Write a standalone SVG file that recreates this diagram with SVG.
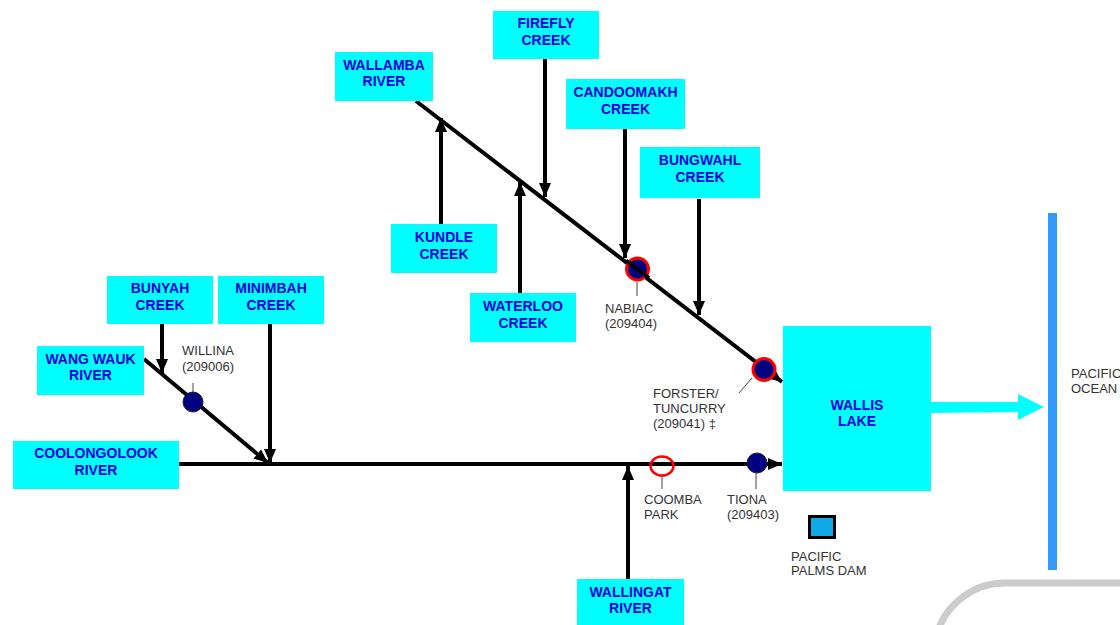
<svg xmlns="http://www.w3.org/2000/svg" width="1120" height="625" viewBox="0 0 1120 625">
<style>
.box{fill:#00ffff}
.bt{font-family:"Liberation Sans",Arial,sans-serif;font-weight:bold;font-size:14px;fill:#0000dd;text-anchor:middle}
.lt{font-family:"Liberation Sans",Arial,sans-serif;font-size:13px;fill:#333333}
.flow{stroke:#000;stroke-width:4;fill:none}
.tick{stroke:#444;stroke-width:1;fill:none}
.stn{fill:#000080}
.stnr{fill:#000080;stroke:#ff0000;stroke-width:3}
</style>
<defs>
<marker id="ah" markerUnits="userSpaceOnUse" markerWidth="14" markerHeight="12" refX="14" refY="6" orient="auto">
<path d="M0,0 L14,6 L0,12 z" fill="#000"/>
</marker>
</defs>
<rect width="1120" height="625" fill="#fff"/>

<g id="connectors">
<line class="flow" x1="179" y1="464" x2="782" y2="464" marker-end="url(#ah)"/>
<line class="flow" x1="144" y1="359" x2="268" y2="463" marker-end="url(#ah)"/>
<line class="flow" x1="270" y1="324" x2="270" y2="463" marker-end="url(#ah)"/>
<line class="flow" x1="162" y1="324" x2="162" y2="373" marker-end="url(#ah)"/>
<line class="flow" x1="416" y1="101" x2="782" y2="382" marker-end="url(#ah)"/>
<line class="flow" x1="441" y1="224" x2="441" y2="118" marker-end="url(#ah)"/>
<line class="flow" x1="545" y1="59" x2="545" y2="197" marker-end="url(#ah)"/>
<line class="flow" x1="520" y1="293" x2="520" y2="182" marker-end="url(#ah)"/>
<line class="flow" x1="625" y1="129" x2="625" y2="258" marker-end="url(#ah)"/>
<line class="flow" x1="699" y1="199" x2="699" y2="315" marker-end="url(#ah)"/>
<line class="flow" x1="628" y1="579" x2="628" y2="466" marker-end="url(#ah)"/>
<polygon points="931,402 1018,402 1018,394 1044,407 1018,420 1018,412 931,413" fill="#00ffff"/>
</g>

<g id="wallamba"><rect class="box" x="335" y="52" width="98" height="49"/><text class="bt" x="384" y="69.5">WALLAMBA</text><text class="bt" x="384" y="86">RIVER</text></g>
<g id="firefly"><rect class="box" x="493" y="11" width="106" height="48"/><text class="bt" x="546" y="28">FIREFLY</text><text class="bt" x="546" y="44.5">CREEK</text></g>
<g id="candoomakh"><rect class="box" x="566" y="79" width="119" height="50"/><text class="bt" x="625.5" y="97">CANDOOMAKH</text><text class="bt" x="625.5" y="113.5">CREEK</text></g>
<g id="bungwahl"><rect class="box" x="640" y="147" width="120" height="51"/><text class="bt" x="700" y="165">BUNGWAHL</text><text class="bt" x="700" y="181.5">CREEK</text></g>
<g id="kundle"><rect class="box" x="391" y="224" width="106" height="49"/><text class="bt" x="444" y="242">KUNDLE</text><text class="bt" x="444" y="258.5">CREEK</text></g>
<g id="waterloo"><rect class="box" x="470" y="293" width="106" height="49"/><text class="bt" x="523" y="311">WATERLOO</text><text class="bt" x="523" y="327.5">CREEK</text></g>
<g id="bunyah"><rect class="box" x="107" y="276" width="106" height="48"/><text class="bt" x="160" y="293">BUNYAH</text><text class="bt" x="160" y="309.5">CREEK</text></g>
<g id="minimbah"><rect class="box" x="218" y="276" width="106" height="48"/><text class="bt" x="271" y="293">MINIMBAH</text><text class="bt" x="271" y="309.5">CREEK</text></g>
<g id="wangwauk"><rect class="box" x="37" y="346" width="107" height="49"/><text class="bt" x="90.5" y="363.5">WANG WAUK</text><text class="bt" x="90.5" y="380">RIVER</text></g>
<g id="coolongolook"><rect class="box" x="13" y="441" width="166" height="48"/><text class="bt" x="96" y="458">COOLONGOLOOK</text><text class="bt" x="96" y="474.5">RIVER</text></g>
<g id="wallingat"><rect class="box" x="577" y="579" width="107" height="48"/><text class="bt" x="630.5" y="597">WALLINGAT</text><text class="bt" x="630.5" y="613">RIVER</text></g>
<g id="wallislake"><rect class="box" x="783" y="326" width="148" height="165"/><text class="bt" x="857" y="410">WALLIS</text><text class="bt" x="857" y="426">LAKE</text></g>

<g id="willina"><line class="tick" x1="193" y1="383" x2="193" y2="392"/><circle class="stn" cx="193" cy="402" r="10" stroke="#222" stroke-width="1"/><text class="lt" x="182" y="355">WILLINA</text><text class="lt" x="182" y="371">(209006)</text></g>
<g id="nabiac"><line class="tick" x1="637" y1="282" x2="637" y2="296"/><circle class="stnr" cx="637.5" cy="269" r="11"/><line x1="626" y1="260.5" x2="649" y2="278" stroke="#000" stroke-width="4"/><text class="lt" x="605" y="313">NABIAC</text><text class="lt" x="605" y="328">(209404)</text></g>
<g id="forster"><line class="tick" x1="752" y1="378" x2="739" y2="393"/><circle class="stnr" cx="764" cy="369.5" r="11"/><text class="lt" x="653" y="398">FORSTER/</text><text class="lt" x="653" y="413">TUNCURRY</text><text class="lt" x="653" y="428">(209041) ‡</text></g>
<g id="coomba"><line class="tick" x1="662" y1="476" x2="662" y2="489"/><ellipse cx="662" cy="466" rx="11.5" ry="9.5" fill="none" stroke="#ff0000" stroke-width="2.5"/><text class="lt" x="644" y="504">COOMBA</text><text class="lt" x="644" y="519">PARK</text></g>
<g id="tiona"><line class="tick" x1="756" y1="473" x2="756" y2="489"/><circle class="stn" cx="757" cy="463" r="10" stroke="#222" stroke-width="1"/><text class="lt" x="727" y="504">TIONA</text><text class="lt" x="727" y="519">(209403)</text></g>
<g id="palmsdam"><rect x="809.5" y="516.5" width="25" height="21" fill="#0fa8e8" stroke="#000" stroke-width="3"/><text class="lt" x="791" y="561">PACIFIC</text><text class="lt" x="791" y="575">PALMS DAM</text></g>
<g id="ocean"><rect x="1048" y="213" width="9" height="357" fill="#3399ff"/><text class="lt" x="1071" y="378">PACIFIC</text><text class="lt" x="1071" y="393">OCEAN</text></g>
<path d="M937.5 632 A71 71 0 0 1 1005 583 L1125 583" fill="none" stroke="#cccccc" stroke-width="7"/>
</svg>
